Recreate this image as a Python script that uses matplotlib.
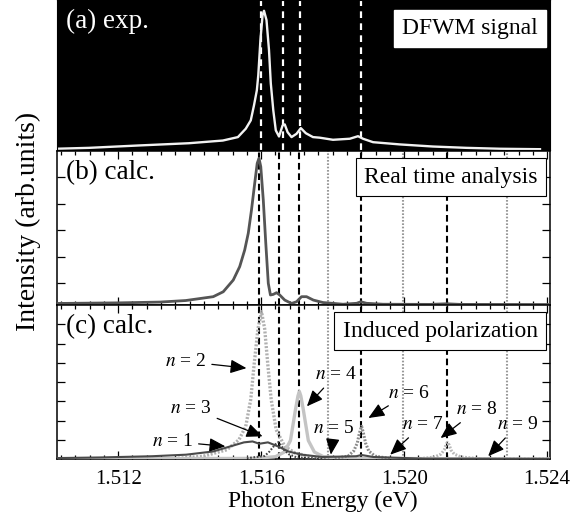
import matplotlib
matplotlib.use('Agg')
import matplotlib.pyplot as plt
from matplotlib.ticker import MultipleLocator, FixedLocator

plt.rcParams['font.family'] = ['Liberation Serif', 'DejaVu Serif']
plt.rcParams['mathtext.fontset'] = 'stix'

# ---------------- data ----------------
# (a) experiment: DFWM signal
exp_E = [1.51026, 1.51118, 1.51258, 1.51398, 1.51493, 1.51535, 1.51557, 1.51571,
         1.51580, 1.51588, 1.51592, 1.51598, 1.51604, 1.51608, 1.51615, 1.51622,
         1.51627, 1.51634, 1.51641, 1.51650, 1.51660, 1.51666, 1.51674, 1.51685,
         1.51699, 1.51711, 1.51725, 1.51745, 1.51764, 1.51801, 1.51848, 1.51871,
         1.51885, 1.51913, 1.51988, 1.52080, 1.52175, 1.52268, 1.52380]
exp_I = [0.005, 0.011, 0.027, 0.042, 0.060, 0.083, 0.139, 0.195,
         0.295, 0.396, 0.497, 0.732, 0.899, 0.928, 0.866, 0.664,
         0.443, 0.262, 0.128, 0.087, 0.161, 0.168, 0.116, 0.083,
         0.105, 0.143, 0.109, 0.083, 0.079, 0.065, 0.072, 0.089,
         0.072, 0.049, 0.034, 0.020, 0.011, 0.005, 0.002]

# (b) calculation: real time analysis
rt_E = [1.51029, 1.51205, 1.51317, 1.51389, 1.51466, 1.51494, 1.51522, 1.51540,
        1.51554, 1.51564, 1.51573, 1.51582, 1.51589, 1.51594, 1.51599, 1.51606,
        1.51613, 1.51620, 1.51626, 1.51634, 1.51643, 1.51652, 1.51666, 1.51685,
        1.51699, 1.51713, 1.51727, 1.51746, 1.51773, 1.51829, 1.51867, 1.51879,
        1.51895, 1.51941, 1.52072, 1.52119, 1.52156, 1.52408]
rt_I = [0.010, 0.014, 0.019, 0.029, 0.054, 0.086, 0.162, 0.249,
        0.357, 0.466, 0.617, 0.790, 0.920, 0.953, 0.898, 0.682,
        0.401, 0.141, 0.065, 0.069, 0.080, 0.065, 0.032, 0.010,
        0.021, 0.054, 0.054, 0.032, 0.016, 0.005, 0.011, 0.021,
        0.011, 0.005, 0.004, 0.008, 0.004, 0.003]

# (c) induced polarization, per level n
n1_E = [1.51029, 1.51149, 1.51295, 1.51390, 1.51466, 1.51514, 1.51552, 1.51576,
        1.51595, 1.51619, 1.51647, 1.51676, 1.51714, 1.51771, 1.51866, 1.51881,
        1.51914, 1.52057, 1.52408]
n1_I = [0.006, 0.010, 0.018, 0.028, 0.049, 0.082, 0.108, 0.114,
        0.099, 0.108, 0.082, 0.049, 0.028, 0.013, 0.018, 0.026,
        0.013, 0.002, 0.001]

n2_E = [1.51029, 1.51342, 1.51438, 1.51504, 1.51538, 1.51557, 1.51571, 1.51580,
        1.51591, 1.51601, 1.51610, 1.51619, 1.51628, 1.51642, 1.51666, 1.51695,
        1.51752, 1.51848, 1.52408]
n2_I = [0.000, 0.000, 0.018, 0.060, 0.125, 0.212, 0.388, 0.605,
        0.844, 0.956, 0.844, 0.605, 0.388, 0.190, 0.082, 0.039,
        0.006, 0.001, 0.000]

n3_E = [1.51560, 1.51610, 1.51624, 1.51636, 1.51644, 1.51649, 1.51655, 1.51664,
        1.51678, 1.51700, 1.51760]
n3_I = [0.005, 0.020, 0.050, 0.085, 0.105, 0.110, 0.090, 0.060,
        0.030, 0.010, 0.002]

n4_E = [1.51029, 1.51580, 1.51640, 1.51665, 1.51682, 1.51696, 1.51703, 1.51707,
        1.51711, 1.51718, 1.51732, 1.51749, 1.51774, 1.51840, 1.52408]
n4_I = [0.000, 0.004, 0.015, 0.045, 0.120, 0.320, 0.410, 0.438,
        0.410, 0.320, 0.120, 0.045, 0.015, 0.004, 0.000]

n6_E = [1.51806, 1.51843, 1.51859, 1.51869, 1.51875, 1.51881, 1.51886, 1.51892,
        1.51901, 1.51918, 1.51960]
n6_I = [0.003, 0.019, 0.052, 0.104, 0.169, 0.212, 0.169, 0.104,
        0.052, 0.019, 0.003]

n8_E = [1.52044, 1.52086, 1.52103, 1.52112, 1.52117, 1.52121, 1.52126, 1.52131,
        1.52140, 1.52159, 1.52212]
n8_I = [0.002, 0.013, 0.032, 0.058, 0.091, 0.108, 0.091, 0.058,
        0.032, 0.013, 0.002]

# level energies marked by vertical lines
exp_lines = [1.51601, 1.51660, 1.51710, 1.51878]
dash_lines = [1.51594, 1.51650, 1.51706, 1.51879, 1.52119]
dot_lines = [1.51786, 1.51996, 1.52288]

# annotation labels: text position and arrow head
ann_labels = ['$n$ = 1', '$n$ = 2', '$n$ = 3', '$n$ = 4', '$n$ = 5',
              '$n$ = 6', '$n$ = 7', '$n$ = 8', '$n$ = 9']
ann_text_E = [1.51352, 1.51389, 1.51404, 1.51809, 1.51804, 1.52014, 1.52052, 1.52204, 1.52318]
ann_text_I = [0.114, 0.633, 0.331, 0.547, 0.201, 0.428, 0.223, 0.320, 0.223]
ann_head_E = [1.51500, 1.51559, 1.51604, 1.51728, 1.51795, 1.51900, 1.51961, 1.52102, 1.52235]
ann_head_I = [0.082, 0.590, 0.147, 0.342, 0.028, 0.266, 0.028, 0.136, 0.018]

xticks = [1.512, 1.516, 1.520, 1.524]
xlim = (1.51029, 1.52408)

# ---------------- figure ----------------
FW, FH = 583, 517
fig = plt.figure(figsize=(FW / 100, FH / 100), dpi=100)
L = 57 / FW
W = (550 - 57) / FW
axa = fig.add_axes([L, 1 - 149.5 / FH, W, 149.5 / FH])
axb = fig.add_axes([L, 1 - 305 / FH, W, 154 / FH])
axc = fig.add_axes([L, 1 - 459 / FH, W, 154 / FH])

# panel (a)
axa.set_facecolor('black')
for x in exp_lines:
    axa.axvline(x, color='white', lw=1.6, ls=(0, (3, 2.4)), zorder=1)
axa.plot(exp_E, exp_I, color='#f2f2f2', lw=1.7, zorder=2)
axa.set_xlim(*xlim)
axa.set_ylim(0, 1)
axa.set_xticks([])
axa.set_yticks([])
for s in axa.spines.values():
    s.set_color('black')
axa.text(0.018, 0.86, '(a) exp.', transform=axa.transAxes, color='white',
         fontsize=19.5, ha='left', va='center')
axa.text(0.975, 0.81, 'DFWM signal', transform=axa.transAxes, color='black',
         fontsize=17, ha='right', va='center',
         bbox=dict(boxstyle='square,pad=0.35', fc='white', ec='white'))

# panels (b) and (c)
for ax in (axb, axc):
    for x in dash_lines:
        ax.axvline(x, color='black', lw=1.5, ls=(0, (3.2, 1.8)), zorder=1)
    for x in dot_lines:
        ax.axvline(x, color='#999999', lw=1.5, ls=(0, (0.8, 0.8)), zorder=1)
    ax.set_xlim(*xlim)
    ax.set_ylim(0, 1)
    ax.xaxis.set_major_locator(FixedLocator(xticks))
    ax.xaxis.set_minor_locator(MultipleLocator(0.0004))
    ax.tick_params(which='both', direction='in', top=True, bottom=True,
                   left=True, right=True, width=0.9)
    ax.tick_params(which='major', length=6)
    ax.tick_params(which='minor', length=3)
    for s in ax.spines.values():
        s.set_linewidth(1.1)

axb.yaxis.set_major_locator(FixedLocator([0.141, 0.313, 0.484, 0.656, 0.828]))
axc.yaxis.set_major_locator(FixedLocator([0.125, 0.25, 0.375, 0.5, 0.625, 0.75, 0.875]))
axb.set_yticklabels([])
axc.set_yticklabels([])
axb.set_xticklabels([])

axb.plot(rt_E, rt_I, color='#555555', lw=2.0, zorder=3)
axb.text(0.018, 0.86, '(b) calc.', transform=axb.transAxes, fontsize=19.5,
         ha='left', va='center')
axb.text(0.975, 0.83, 'Real time analysis', transform=axb.transAxes, fontsize=17,
         ha='right', va='center',
         bbox=dict(boxstyle='square,pad=0.35', fc='white', ec='black', lw=0.8))

axc.plot(n2_E, n2_I, color='#b0b0b0', lw=2.4, ls=(0, (0.6, 0.5)), zorder=3)
axc.plot(n4_E, n4_I, color='#c4c4c4', lw=2.4, zorder=3)
axc.plot(n6_E, n6_I, color='#8a8a8a', lw=2.2, ls=(0, (0.6, 0.5)), zorder=3)
axc.plot(n8_E, n8_I, color='#b8b8b8', lw=2.2, ls=(0, (0.6, 0.5)), zorder=3)
axc.plot(n3_E, n3_I, color='#444444', lw=1.5, ls=(0, (0.8, 0.8)), zorder=4)
axc.plot(n1_E, n1_I, color='#4a4a4a', lw=1.5, zorder=4)

axc.text(0.018, 0.86, '(c) calc.', transform=axc.transAxes, fontsize=19.5,
         ha='left', va='center')
axc.text(0.975, 0.83, 'Induced polarization', transform=axc.transAxes, fontsize=17,
         ha='right', va='center',
         bbox=dict(boxstyle='square,pad=0.35', fc='white', ec='black', lw=0.8))

for lab, tx, ty, hx, hy in zip(ann_labels, ann_text_E, ann_text_I, ann_head_E, ann_head_I):
    axc.annotate(lab, xy=(hx, hy), xytext=(tx, ty), fontsize=14,
                 ha='center', va='center', zorder=6,
                 arrowprops=dict(arrowstyle='-|>,head_length=0.7,head_width=0.3',
                                 color='black', lw=0.9, shrinkA=2, shrinkB=0))

axc.set_xticklabels(['%.3f' % v for v in xticks], fontsize=15)
axc.tick_params(axis='x', which='major', pad=8)
fig.text(323 / FW, 1 - 501 / FH, 'Photon Energy (eV)', fontsize=17,
         ha='center', va='center')
fig.text(28 / FW, 1 - 221 / FH, 'Intensity (arb.units)', fontsize=20,
         rotation=90, ha='center', va='center')

fig.savefig('out.png', dpi=100)
